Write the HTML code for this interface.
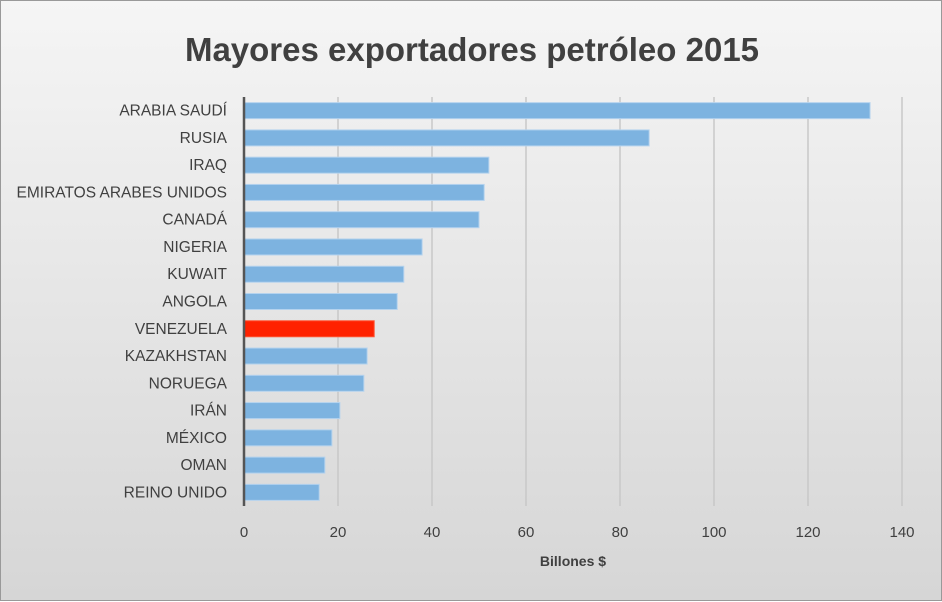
<!DOCTYPE html>
<html><head><meta charset="utf-8"><style>
body{margin:0;width:942px;height:601px;overflow:hidden;}
#c{position:absolute;left:0;top:0;width:940px;height:599px;border:1px solid #999;background:linear-gradient(#f5f5f5,#d6d6d6);}
svg{position:absolute;left:0;top:0}
text{font-family:"Liberation Sans",sans-serif;fill:#404040}
</style></head><body>
<div id="c">
<svg id="s" width="942" height="601">
<text x="471" y="60" text-anchor="middle" font-size="33" font-weight="bold">Mayores exportadores petróleo 2015</text>
<text x="572" y="565" text-anchor="middle" font-size="14" font-weight="bold">Billones $</text>
</svg></div>
<script>
const categories=["ARABIA SAUDÍ","RUSIA","IRAQ","EMIRATOS ARABES UNIDOS","CANADÁ","NIGERIA","KUWAIT","ANGOLA","VENEZUELA","KAZAKHSTAN","NORUEGA","IRÁN","MÉXICO","OMAN","REINO UNIDO"];
const values=[133.2,86.2,52.1,51.1,50,37.9,34,32.6,27.7,26.2,25.5,20.4,18.7,17.2,16];
const highlight=["VENEZUELA"];
const ticks=[0,20,40,60,80,100,120,140];
const svgEl=document.getElementById('s');
const NS='http://www.w3.org/2000/svg';
const x0=243,x1=901,yTop=96,yBot=505;
const xs=v=>x0+(v-0)/(140-0)*(x1-x0);
const step=(yBot-yTop)/categories.length;
const yc=i=>yTop+step*(i+0.5);
function el(t,a){const e=document.createElementNS(NS,t);for(const k in a)e.setAttribute(k,a[k]);svgEl.appendChild(e);return e;}
ticks.forEach(t=>{
 if(t>0){const g=el('line',{x1:xs(t),x2:xs(t),y1:yTop,y2:yBot,stroke:'#c8c8c8','stroke-width':1.5});
 
 }
 const tx=el('text',{x:xs(t),y:536,'text-anchor':'middle','font-size':15});
 tx.textContent=t;
 
 
});
categories.forEach((c,i)=>{
 const hi=highlight.includes(c);
 const r=el('rect',{x:xs(0),y:yc(i)-8,width:xs(values[i])-xs(0),height:16,fill:hi?'#ff2200':'#7db3e0',stroke:hi?'#ff5533':'#b5d3ee','stroke-width':1});
 
 
 const t=el('text',{x:226,y:yc(i)+5,'text-anchor':'end','font-size':15.5});
 t.textContent=c;
 
 
});
const ax=el('line',{x1:x0,x2:x0,y1:yTop,y2:yBot,stroke:'#555','stroke-width':2.5});


</script>
</body></html>
